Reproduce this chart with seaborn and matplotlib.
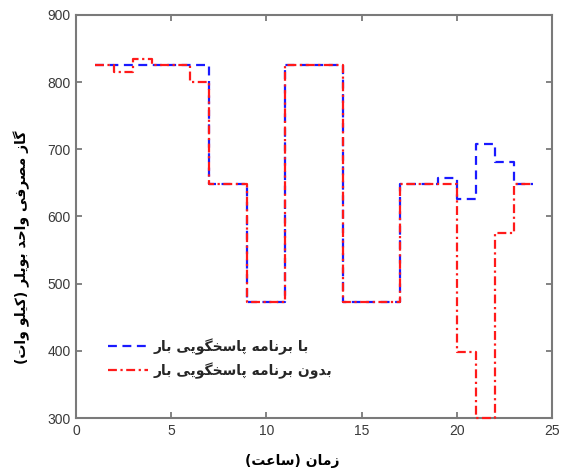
import numpy as np
import pandas as pd
import matplotlib
matplotlib.use("Agg")
import matplotlib.pyplot as plt
import seaborn as sns

# ---- data ----
hours = [1, 2, 3, 4, 5, 6, 7, 8, 9, 10, 11, 12, 13, 14, 15, 16, 17, 18, 19, 20, 21, 22, 23, 24]
with_dr = [825, 825, 825, 825, 825, 825, 648, 648, 473, 473, 825, 825, 825,
           473, 473, 473, 648, 648, 658, 626, 708, 681, 648, 648]
without_dr = [825, 815, 835, 825, 825, 800, 648, 648, 473, 473, 825, 825, 825,
              473, 473, 473, 648, 648, 648, 398, 300, 576, 648, 648]
label_with = "با برنامه پاسخگویی بار"
label_without = "بدون برنامه پاسخگویی بار"
xlabel_text = "زمان (ساعت)"
ylabel_text = "گاز مصرفی واحد بویلر (کیلو وات)"
xticks = [0, 5, 10, 15, 20, 25]
yticks = [300, 400, 500, 600, 700, 800, 900]

# ---- minimal Arabic/Persian shaping (isolated, final, initial, medial) ----
FORMS = {
    'ا': ('\uFE8D', '\uFE8E', None, None),
    'ب': ('\uFE8F', '\uFE90', '\uFE91', '\uFE92'),
    'پ': ('\uFB56', '\uFB57', '\uFB58', '\uFB59'),
    'ت': ('\uFE95', '\uFE96', '\uFE97', '\uFE98'),
    'ح': ('\uFEA1', '\uFEA2', '\uFEA3', '\uFEA4'),
    'خ': ('\uFEA5', '\uFEA6', '\uFEA7', '\uFEA8'),
    'د': ('\uFEA9', '\uFEAA', None, None),
    'ر': ('\uFEAD', '\uFEAE', None, None),
    'ز': ('\uFEAF', '\uFEB0', None, None),
    'س': ('\uFEB1', '\uFEB2', '\uFEB3', '\uFEB4'),
    'ص': ('\uFEB9', '\uFEBA', '\uFEBB', '\uFEBC'),
    'ع': ('\uFEC9', '\uFECA', '\uFECB', '\uFECC'),
    'ف': ('\uFED1', '\uFED2', '\uFED3', '\uFED4'),
    'ک': ('\uFB8E', '\uFB8F', '\uFB90', '\uFB91'),
    'گ': ('\uFB92', '\uFB93', '\uFB94', '\uFB95'),
    'ل': ('\uFEDD', '\uFEDE', '\uFEDF', '\uFEE0'),
    'م': ('\uFEE1', '\uFEE2', '\uFEE3', '\uFEE4'),
    'ن': ('\uFEE5', '\uFEE6', '\uFEE7', '\uFEE8'),
    'ه': ('\uFEE9', '\uFEEA', '\uFEEB', '\uFEEC'),
    'و': ('\uFEED', '\uFEEE', None, None),
    'ی': ('\uFBFC', '\uFBFD', '\uFBFE', '\uFBFF'),
}


def shape_rtl(s):
    out = []
    n = len(s)
    for i, c in enumerate(s):
        if c not in FORMS:
            out.append(c)
            continue
        prev = s[i - 1] if i > 0 else None
        nxt = s[i + 1] if i < n - 1 else None
        jp = prev in FORMS and FORMS[prev][2] is not None
        jn = FORMS[c][2] is not None and nxt in FORMS
        iso, fin, ini, med = FORMS[c]
        if jp and jn:
            out.append(med)
        elif jp:
            out.append(fin)
        elif jn:
            out.append(ini)
        else:
            out.append(iso)
    vis = ''.join(reversed(out))
    return vis.translate(str.maketrans({'(': ')', ')': '('}))


sns.set_theme(style="white")
plt.rcParams['font.family'] = ['DejaVu Sans']

s_with = shape_rtl(label_with)
s_without = shape_rtl(label_without)

df = pd.DataFrame({
    "hour": hours * 2,
    "value": with_dr + without_dr,
    "series": [s_with] * len(hours) + [s_without] * len(hours),
})

fig = plt.figure(figsize=(5.61, 4.76), dpi=100)
ax = fig.add_axes([76 / 561, 1 - 418 / 476, 476 / 561, 403 / 476])

sns.lineplot(data=df, x="hour", y="value", hue="series", style="series",
             hue_order=[s_with, s_without], style_order=[s_with, s_without],
             palette={s_with: "#1a1aff", s_without: "#ff1a1a"},
             dashes={s_with: (4, 2.5), s_without: (4, 1.6, 1, 1.6)},
             drawstyle="steps-post", linewidth=1.6, estimator=None,
             ax=ax, legend=True)
for ln in ax.get_lines():
    ln.set_clip_on(False)

ax.set_xlim(0, 25)
ax.set_ylim(300, 900)
ax.set_xticks(xticks)
ax.set_yticks(yticks)
ax.tick_params(direction="in", length=4, width=1.2, color="#6e6e6e",
               top=True, right=True, bottom=True, left=True,
               labelsize=10, labelcolor="#3a3a3a", pad=4)
for lab in ax.get_xticklabels() + ax.get_yticklabels():
    lab.set_family(["Liberation Sans Narrow", "Liberation Sans", "DejaVu Sans"])
for sp in ax.spines.values():
    sp.set_color("#7a7a7a")
    sp.set_linewidth(1.5)
    sp.set_zorder(1)

ax.set_xlabel(shape_rtl(xlabel_text), fontsize=10, fontweight="bold", color="black")
ax.set_ylabel(shape_rtl(ylabel_text), fontsize=10, fontweight="bold", color="black")
ax.xaxis.set_label_coords((292 - 76) / 476, -(454 - 418) / 403)
ax.yaxis.set_label_coords(-(76 - 30) / 476, (418 - 247) / 403)

leg = ax.legend(loc="center left", bbox_to_anchor=((108 - 76) / 476, (418 - 358.5) / 403),
                frameon=False, borderpad=0, borderaxespad=0, handlelength=2.9,
                handletextpad=0.4, labelspacing=0.55,
                prop={"family": "DejaVu Sans", "weight": "bold", "size": 10})

fig.savefig("out.png", dpi=100)
